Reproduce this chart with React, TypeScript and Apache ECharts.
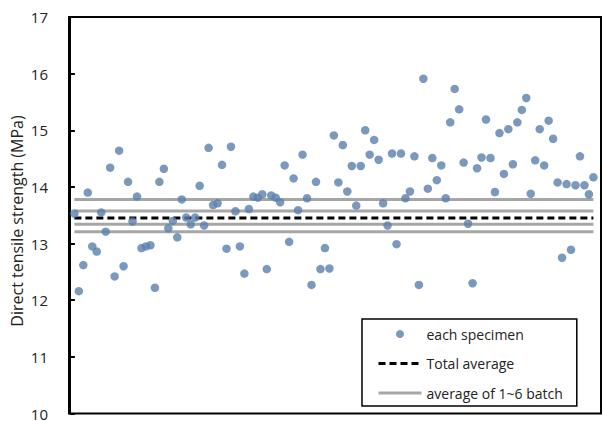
import React, { useEffect, useRef } from "react";
import * as echarts from "echarts";

// Direct tensile strength of each specimen (MPa), in specimen order
const strengths = [
  13.53, 12.16, 12.62, 13.9, 12.95, 12.86, 13.55, 13.21, 14.34, 12.42,
  14.64, 12.6, 14.09, 13.39, 13.83, 12.92, 12.95, 12.97, 12.22, 14.09,
  14.32, 13.27, 13.4, 13.11, 13.78, 13.46, 13.34, 13.46, 14.02, 13.32,
  14.69, 13.68, 13.71, 14.39, 12.91, 14.71, 13.57, 12.95, 12.47, 13.61,
  13.83, 13.81, 13.87, 12.55, 13.85, 13.81, 13.73, 14.38, 13.03, 14.15,
  13.59, 14.57, 13.8, 12.27, 14.09, 12.55, 12.92, 12.56, 14.91, 14.08,
  14.74, 13.92, 14.37, 13.67, 14.37, 15.0, 14.57, 14.83, 14.48, 13.71,
  13.32, 14.59, 12.99, 14.59, 13.8, 13.92, 14.54, 12.27, 15.91, 13.97,
  14.51, 14.12, 14.38, 13.8, 15.14, 15.73, 15.37, 14.43, 13.35, 12.3,
  14.33, 14.52, 15.19, 14.51, 13.91, 14.95, 14.23, 15.02, 14.4, 15.14,
  15.36, 15.57, 13.88, 14.47, 15.02, 14.38, 15.17, 14.85, 14.08, 12.75,
  14.05, 12.89, 14.03, 14.54, 14.03, 13.87, 14.17,
];

const totalAverage = 13.45;
const batchAverages = [13.78, 13.575, 13.34, 13.21];

const seriesNames = ["each specimen", "Total average", "average of 1~6 batch"];
const yAxisName = "Direct tensile strength (MPa)";
const yMin = 10;
const yMax = 17;
const yInterval = 1;

const FONT = "'Open Sans', 'Noto Sans', sans-serif";

export default function App() {
  const ref = useRef<HTMLDivElement>(null);

  useEffect(() => {
    document.body.style.margin = "0";
    if (!ref.current) return;
    const chart = echarts.init(ref.current, undefined, { renderer: "svg" });
    const firstIdx = 1;
    const lastIdx = strengths.length;

    const option: any = {
      animation: false,
      backgroundColor: "#fff",
      grid: {
        left: 69,
        right: 3,
        top: 17,
        bottom: 4,
        show: true,
        borderColor: "#000",
        borderWidth: 2,
      },
      legend: {
        orient: "vertical",
        left: 362,
        top: 319,
        backgroundColor: "#fff",
        borderColor: "#000",
        borderWidth: 1.5,
        borderRadius: 0,
        padding: [8, 14, 6, 15],
        itemWidth: 43,
        itemHeight: 8,
        itemGap: 15.5,
        textStyle: { fontSize: 14, color: "#222", fontFamily: FONT },
        data: [
          { name: seriesNames[0] },
          {
            name: seriesNames[1],
            itemStyle: { opacity: 0 },
            lineStyle: { color: "#000", width: 3, type: [7, 4] },
          },
          {
            name: seriesNames[2],
            itemStyle: { opacity: 0 },
            lineStyle: { color: "#a6a6a6", width: 3, type: "solid" },
          },
        ],
      },
      graphic: [
        {
          type: "text",
          x: 17,
          y: 221,
          rotation: Math.PI / 2,
          style: {
            text: yAxisName,
            fill: "#222",
            font: `16px ${FONT}`,
            align: "center",
            verticalAlign: "middle",
          },
        },
      ],
      xAxis: {
        type: "value",
        min: -0.2,
        max: 118.7,
        show: false,
      },
      yAxis: {
        type: "value",
        min: yMin,
        max: yMax,
        interval: yInterval,
        axisLine: { show: true, lineStyle: { color: "#000", width: 2 } },
        axisTick: { show: true, inside: true, length: 5, lineStyle: { color: "#000", width: 2 } },
        axisLabel: { color: "#222", fontSize: 15, margin: 21, fontFamily: FONT },
        splitLine: { show: false },
      },
      series: [
        {
          name: seriesNames[0],
          type: "scatter",
          data: strengths.map((v, i) => [i + 1, v]),
          symbol: "circle",
          symbolSize: 8.5,
          itemStyle: { color: "#5a7fab" },
          z: 5,
        },
        {
          name: seriesNames[1],
          type: "line",
          data: [
            [firstIdx, totalAverage],
            [lastIdx, totalAverage],
          ],
          symbol: "none",
          lineStyle: { color: "#000", width: 3, type: [7, 4] },
          itemStyle: { color: "#000" },
          z: 3,
        },
        ...batchAverages.map((v) => ({
          name: seriesNames[2],
          type: "line",
          data: [
            [firstIdx, v],
            [lastIdx, v],
          ],
          symbol: "none",
          lineStyle: { color: "#a6a6a6", width: 3 },
          itemStyle: { color: "#a6a6a6" },
          z: 2,
        })),
      ],
    };
    chart.setOption(option);
    return () => chart.dispose();
  }, []);

  return (
    <div
      ref={ref}
      style={{ position: "fixed", left: 0, top: 0, width: 604, height: 421 }}
    />
  );
}
